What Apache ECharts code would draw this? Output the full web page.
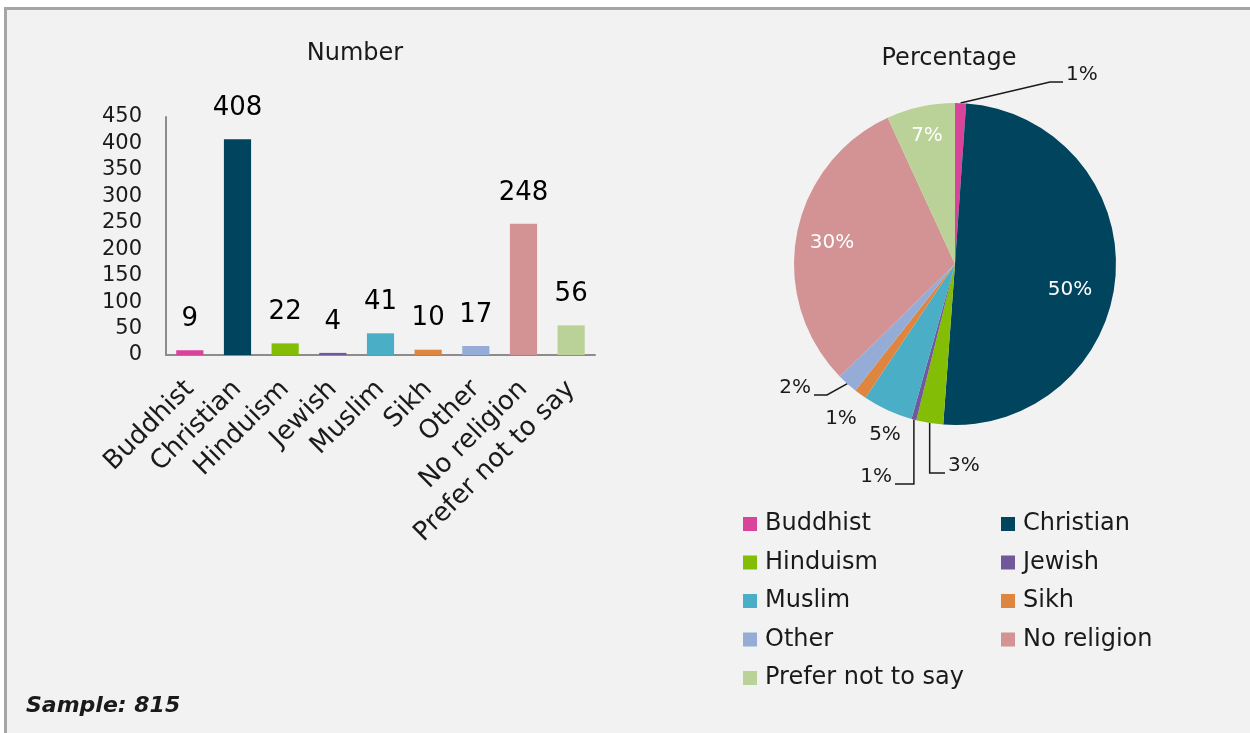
<!DOCTYPE html>
<html><head><meta charset="utf-8">
<script src="https://cdn.jsdelivr.net/npm/echarts@6/dist/echarts.min.js"></script>
<style>
html,body{margin:0;padding:0;background:#fff;width:1250px;height:733px;overflow:hidden}
#panel{position:absolute;left:4px;top:7px;right:0;bottom:0;background:#f2f2f2;border-top:3px solid #a5a5a5;border-left:3px solid #a5a5a5}
#chart{position:absolute;left:0;top:0;width:1250px;height:733px}
</style></head><body><div id="panel"></div><div id="chart"></div>
<script>
// ---- data ----
const categories = ['Buddhist','Christian','Hinduism','Jewish','Muslim','Sikh','Other','No religion','Prefer not to say'];
const counts = [9, 408, 22, 4, 41, 10, 17, 248, 56];
const pctLabels = ['1%','50%','3%','1%','5%','1%','2%','30%','7%'];
const sampleText = 'Sample: 815';
const yMin = 0, yMax = 450, yStep = 50;

// ---- styles ----
const FONT = '"DejaVu Sans", Verdana, sans-serif';
const colors = ['#d8449a','#00445e','#84bd05','#71589a','#4aaec6','#de8640','#95acd6','#d39293','#bad297'];
const insideIdx = [1, 7, 8];
const noLineIdx = [4, 5];
// label placement for the pie (pixel positions of the label anchors)
const pieLabelPlace = [
  {x:1066, y:75,  align:'left',   line:'d'},
  {x:1070, y:290, align:'center'},
  {x:948,  y:466, align:'left',   line:'v'},
  {x:892,  y:477, align:'right',  line:'v'},
  {x:885,  y:435, align:'center'},
  {x:841,  y:419, align:'center'},
  {x:811,  y:388, align:'right',  line:'d'},
  {x:832,  y:243, align:'center'},
  {x:927,  y:136, align:'center'}
];

const chart = echarts.init(document.getElementById('chart'), null, {renderer:'canvas'});
const txt = '#1a1a1a';

const option = {
  animation: false,
  backgroundColor: 'transparent',
  textStyle: {fontFamily: FONT},
  title: [
    {text:'Number', left:355, top:42, padding:0, textAlign:'center', textStyle:{fontFamily:FONT, fontSize:24, fontWeight:'normal', color:txt}},
    {text:'Percentage', left:949, top:47, padding:0, textAlign:'center', textStyle:{fontFamily:FONT, fontSize:24, fontWeight:'normal', color:txt}},
    {text:sampleText, left:26, top:695, padding:0, textStyle:{fontFamily:FONT, fontSize:22, fontWeight:'bold', fontStyle:'italic', color:txt}}
  ],
  grid: {left:166, top:117, width:429, height:238, containLabel:false, outerBoundsMode:'none'},
  xAxis: {
    type:'category', data:categories,
    axisLine:{show:true, lineStyle:{color:'#8c8c8c', width:2}},
    axisTick:{show:false},
    axisLabel:{rotate:45, interval:0, margin:30, fontSize:26, fontFamily:FONT, color:txt}
  },
  yAxis: {
    type:'value', min:yMin, max:yMax, interval:yStep,
    axisLine:{show:true, lineStyle:{color:'#8c8c8c', width:2}},
    axisTick:{show:false},
    splitLine:{show:false},
    axisLabel:{margin:24, fontSize:21, fontFamily:FONT, color:txt}
  },
  legend: [
    {
      data:[0,2,4,6,8].map(i=>categories[i]), orient:'vertical', left:743, top:512, padding:0,
      itemWidth:14, itemHeight:14, itemGap:14.5, icon:'rect', selectedMode:false,
      textStyle:{fontFamily:FONT, fontSize:24, lineHeight:24, color:txt, padding:[0,0,0,3]}
    },
    {
      data:[1,3,5,7].map(i=>categories[i]), orient:'vertical', left:1001, top:512, padding:0,
      itemWidth:14, itemHeight:14, itemGap:14.5, icon:'rect', selectedMode:false,
      textStyle:{fontFamily:FONT, fontSize:24, lineHeight:24, color:txt, padding:[0,0,0,3]}
    }
  ],
  series: [
    {
      type:'bar', barWidth:'57%',
      data: counts.map((v,i)=>({value:v, itemStyle:{color:colors[i]}})),
      label:{show:true, position:'top', distance:18, fontSize:26, fontFamily:FONT, color:'#000'},
      emphasis:{disabled:true}
    },
    {
      type:'pie', center:[955,264], radius:161, startAngle:90, clockwise:true,
      avoidLabelOverlap:false,
      emphasis:{disabled:true},
      label:{show:true, position:'outside', fontSize:20, fontFamily:FONT, color:txt,
             formatter:p=>pctLabels[p.dataIndex]},
      labelLine:{show:true, length:10, length2:10, smooth:false, lineStyle:{color:txt, width:1.5}},
      labelLayout: function (params) {
        const p = pieLabelPlace[params.dataIndex];
        const res = {x:p.x, y:p.y, align:p.align, verticalAlign:'middle'};
        if (p.line && params.labelLinePoints) {
          const p0 = params.labelLinePoints[0];
          const ly = p.y + 7;
          const ex = p.align === 'left' ? p.x - 3 : p.x + 3;
          const hx = p.line === 'v' ? p0[0] : (p.align === 'left' ? ex - 13 : ex + 13);
          res.labelLinePoints = [p0, [hx, ly], [ex, ly]];
        }
        return res;
      },
      data: categories.map((name,i)=>{
        const d = {name, value:counts[i], itemStyle:{color:colors[i]}};
        if (insideIdx.includes(i)) {
          d.label = {position:'inside', color:'#fff'};
          d.labelLine = {show:false};
        } else if (noLineIdx.includes(i)) {
          d.labelLine = {show:false};
        }
        return d;
      })
    }
  ]
};
chart.setOption(option);
</script></body></html>
